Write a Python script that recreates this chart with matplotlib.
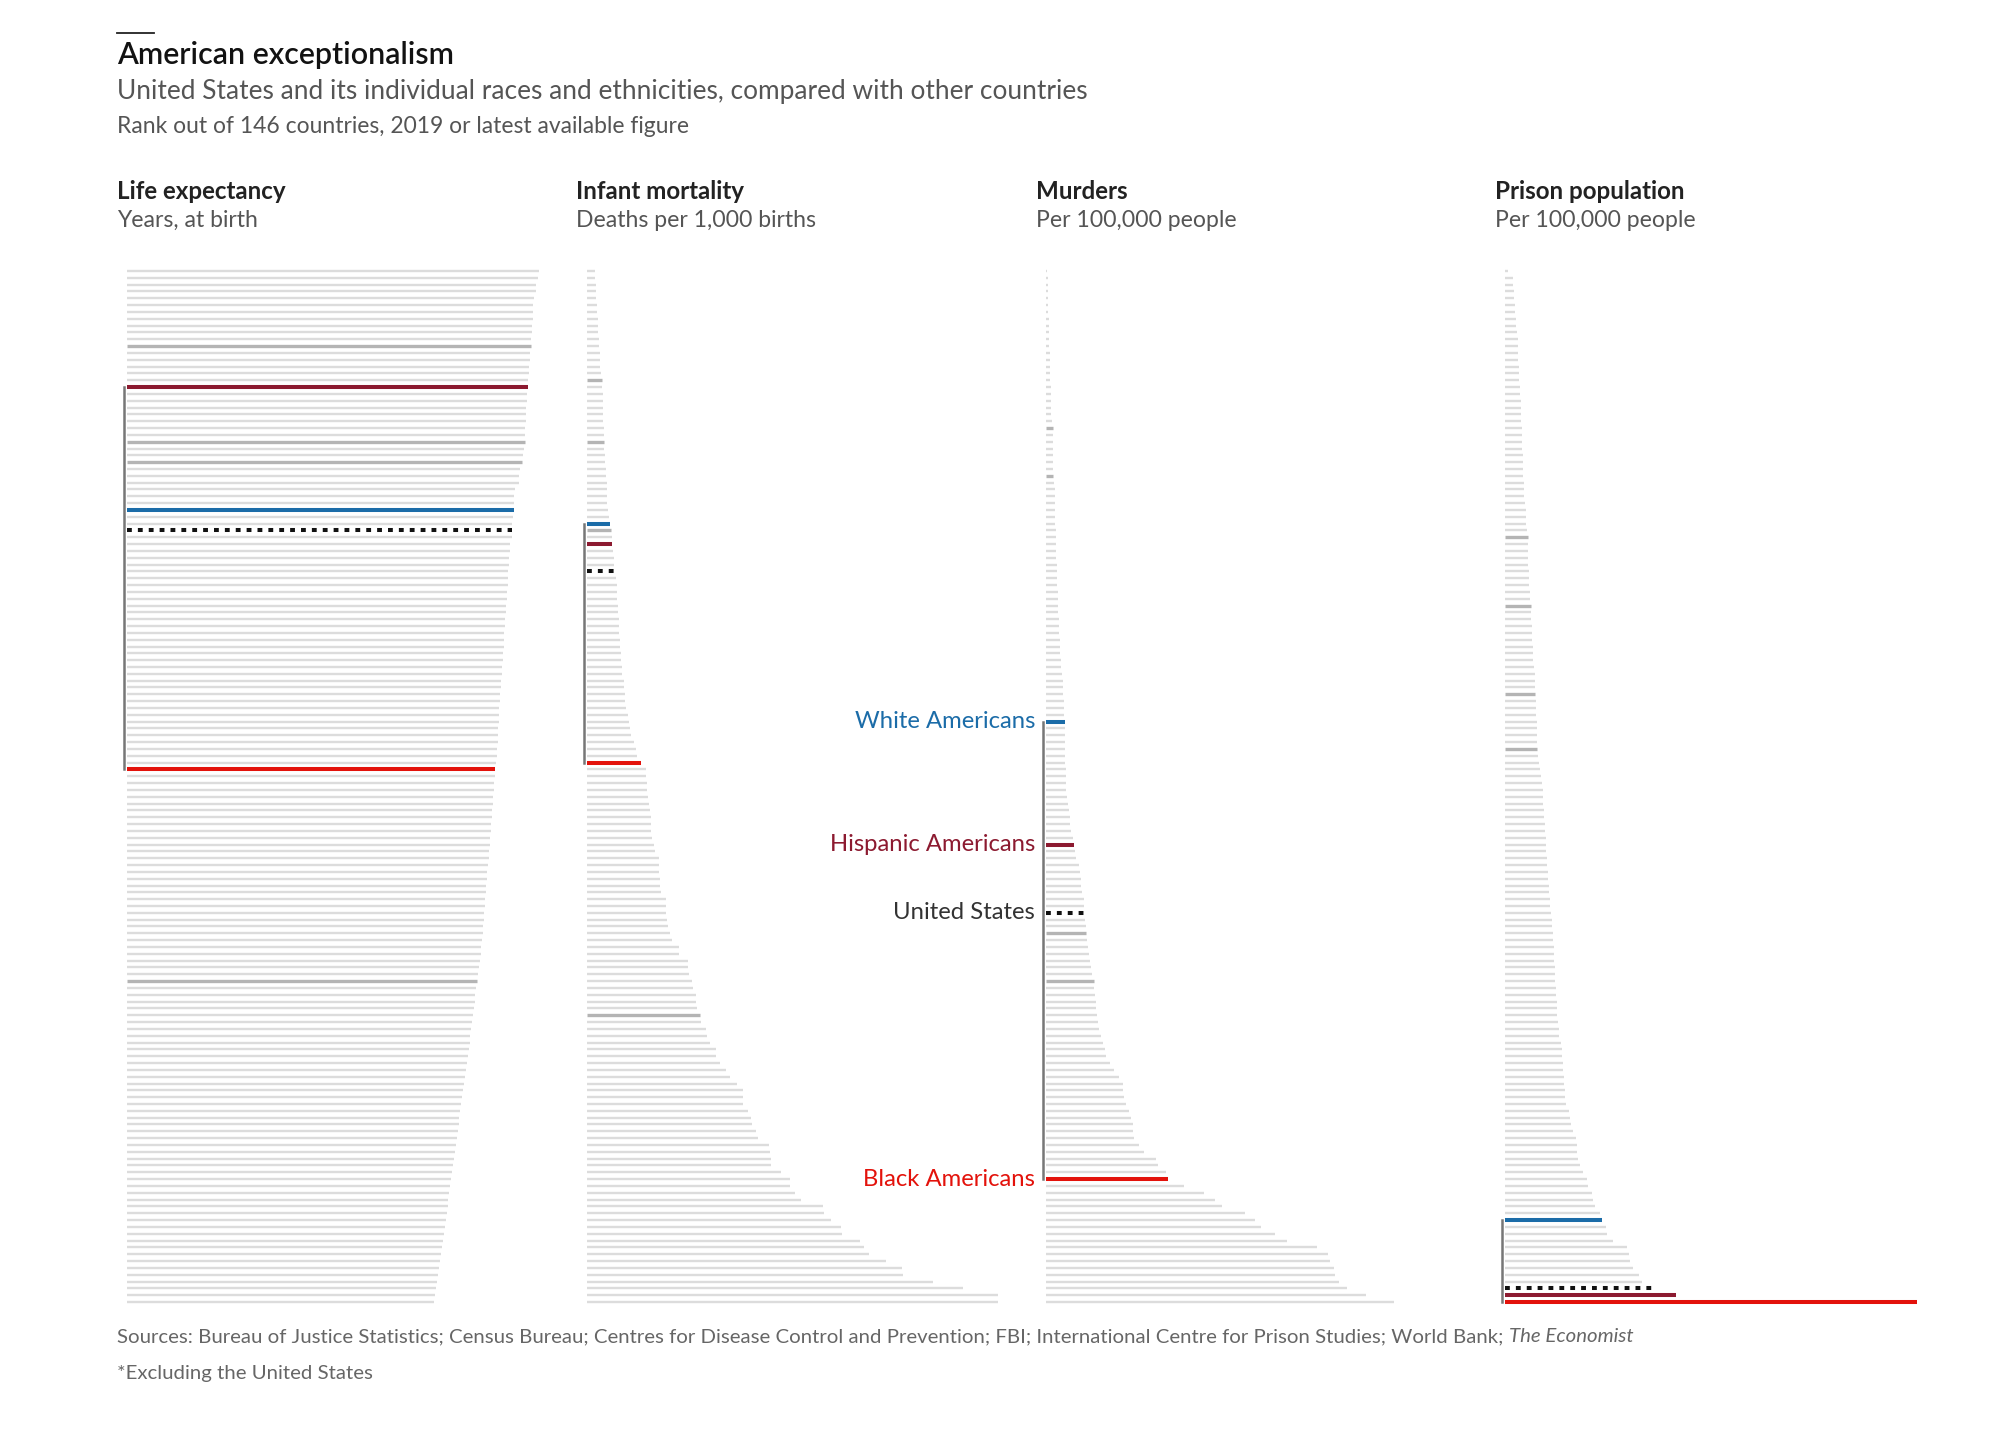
import matplotlib
matplotlib.use('Agg')
import matplotlib.pyplot as plt
from matplotlib.lines import Line2D
from matplotlib import transforms

plt.rcParams['font.family'] = ['Lato', 'DejaVu Sans']

# valores por linha (ordem de ranking, melhor no topo)
life = [84.1, 83.9, 83.5, 83.4, 83.1, 82.9, 82.8, 82.8, 82.7, 82.7, 82.4, 82.4, 82.3, 82.2, 82.0, 82.0, 81.8, 81.8,
        81.7, 81.6, 81.5, 81.4, 81.4, 81.3, 81.2, 81.2, 81.0, 80.8, 80.7, 80.1, 80.0, 79.9, 79.2, 79.0, 78.9,
        78.9, 78.8, 78.6, 78.6, 78.5, 78.2,
        78.1, 78.0, 77.9, 77.8, 77.8, 77.7, 77.6, 77.5, 77.4, 77.3, 77.2, 77.1, 77.0, 76.9, 76.9, 76.8,
        76.7, 76.6, 76.5, 76.4, 76.3, 76.2, 76.1, 76.0, 76.0, 75.9, 75.8, 75.7, 75.6, 75.5, 75.4, 75.2,
        75.1,
        75.0, 74.9, 74.8, 74.7, 74.6, 74.5, 74.4, 74.3, 74.2, 74.1, 74.0, 73.9, 73.8, 73.7, 73.5, 73.4,
        73.3, 73.2, 73.1, 73.0, 72.9, 72.8, 72.7, 72.6, 72.4, 72.3, 72.2, 72.0, 71.9, 71.7,
        71.4,
        71.3, 71.1, 71.0, 70.8, 70.6, 70.4, 70.2, 70.0, 69.9, 69.7, 69.5, 69.3, 69.1, 68.9, 68.7, 68.5,
        68.3, 68.2, 68.0, 67.8, 67.7, 67.5, 67.3,
        67.1, 66.9, 66.7, 66.5, 66.3, 66.1, 65.9, 65.8, 65.6, 65.4, 65.2,
        65.0, 64.8, 64.6, 64.4, 64.2, 64.1, 63.9, 63.7, 63.5, 63.3, 63.1, 62.9, 62.6]

infant = [1.7, 1.7, 1.8, 1.9, 1.9, 2.1, 2.1, 2.2, 2.2, 2.3, 2.4, 2.4, 2.6, 2.7, 2.7, 2.8,
          3.0,
          3.0, 3.1, 3.2, 3.2, 3.2, 3.2, 3.3, 3.3,
          3.3,
          3.3, 3.5, 3.6, 3.7, 3.7, 3.9, 3.9, 4.0, 4.0, 4.1, 4.3,
          4.5, 4.8, 4.9, 4.9, 5.1, 5.3, 5.4, 5.6,
          5.7, 5.8, 5.9, 5.9, 6.0, 6.1, 6.2, 6.2, 6.3, 6.4, 6.4, 6.6, 6.7, 6.8, 6.9, 7.2, 7.2, 7.4,
          7.5, 7.7, 8.0, 8.2, 8.4, 8.5, 9.1, 9.5, 9.8,
          10.6,
          11.5, 11.5, 11.6, 11.7, 11.9, 12.1, 12.2, 12.4, 12.5, 12.5, 12.7, 13.1, 13.2, 14.0, 14.0,
          14.0, 14.2, 14.2, 14.3, 15.3, 15.3, 15.4, 15.6, 15.8, 16.1, 16.5, 17.8, 17.9, 19.6, 19.6,
          19.8, 20.3, 20.6, 21.2, 21.2, 21.4,
          22.0,
          22.2, 23.0, 23.3, 23.8, 25.1, 25.1, 25.7, 26.9, 27.7, 29.0, 30.2, 30.2, 30.2, 31.2, 31.7,
          32.0, 32.7, 33.1, 35.3, 35.4, 35.7, 35.7, 37.6, 39.3, 39.4, 40.2, 41.5, 45.7, 45.8, 47.3,
          49.2, 49.4, 52.9, 53.7, 54.6, 57.9, 61.0, 61.1, 66.9, 72.8, 79.5, 79.5]

murders = [0.18, 0.21, 0.23, 0.25, 0.27, 0.30, 0.32, 0.34, 0.36, 0.38, 0.40, 0.43, 0.45, 0.48, 0.51,
           0.53, 0.56, 0.58, 0.61, 0.63, 0.66, 0.69, 0.72,
           0.88,
           0.88, 0.88, 0.92, 0.96, 0.96, 0.96,
           0.96,
           1.05, 1.10, 1.10, 1.14, 1.14, 1.18, 1.18, 1.23, 1.23, 1.27, 1.32, 1.32, 1.36, 1.40, 1.40,
           1.45, 1.49, 1.49, 1.54, 1.58, 1.62, 1.67, 1.71, 1.75, 1.80, 1.84, 1.93, 1.97, 2.06, 2.15,
           2.19, 2.24, 2.28, 2.32, 2.36,
           2.38,
           2.39, 2.40, 2.42, 2.44, 2.46, 2.48, 2.50, 2.52, 2.54, 2.56, 2.63, 2.84, 2.97, 3.05, 3.14,
           3.26, 3.47,
           3.64,
           3.69, 3.90, 4.24, 4.41, 4.49, 4.53, 4.66, 4.83, 4.92,
           5.00,
           5.04, 5.08, 5.12,
           5.30, 5.38, 5.51, 5.59, 5.81, 5.93,
           6.10,
           6.14, 6.23, 6.36, 6.44, 6.53, 6.65, 6.78, 7.08, 7.29, 7.50, 7.63, 8.14, 8.77, 9.41, 9.83,
           9.92, 10.04, 10.25, 10.59, 10.89, 11.10, 11.19, 11.31, 11.95, 12.58, 14.07, 14.36, 15.34,
           15.6,
           17.67, 20.2, 21.7, 22.6, 25.5, 26.8, 27.6, 29.3, 30.9, 34.7, 36.2, 36.4, 36.9, 37.0, 37.6,
           38.6, 41.0, 44.6]

prison = [14, 33, 36, 39, 41, 42, 44, 47, 49, 51, 54, 55, 57, 58, 59, 60, 62, 63, 65, 67, 68, 69,
          70, 72, 73, 74, 75, 76, 77, 78, 79, 81, 82, 84, 86, 89, 90, 92, 94,
          98,
          98, 99, 101, 101, 102, 103, 105, 106, 108,
          112,
          112, 114, 115, 116, 117, 120, 122, 123, 125, 128, 130, 131,
          131,
          132, 134, 136, 137, 138, 139, 140,
          140,
          144, 148, 152, 155, 159, 162, 164, 166, 168, 170, 172, 173, 175, 176, 179, 181, 183, 185,
          187, 190, 192, 194, 196, 200, 202, 204, 206, 208, 210, 212, 213, 215, 217, 218, 220, 221,
          223, 224, 226, 229, 232, 235, 241, 244, 246, 249, 251, 253, 255, 258, 260, 263, 275, 279,
          287, 292, 305, 309, 312, 317, 324, 338,
          353, 360, 374, 382, 389, 410,
          420,
          436, 442, 465, 526, 536, 540, 552, 580, 590,
          655, 739, 1781]

# posicoes (ranking) das linhas destacadas
life_cinza = [11, 25, 28, 104]
life_grupos = {'white': 35, 'hisp': 17, 'us': 38, 'black': 73}
infant_cinza = [16, 25, 38, 109]
infant_grupos = {'white': 37, 'hisp': 40, 'us': 44, 'black': 72}
murders_cinza = [23, 30, 97, 104]
murders_grupos = {'white': 66, 'hisp': 84, 'us': 94, 'black': 133}
prison_cinza = [39, 49, 62, 70]
prison_grupos = {'white': 139, 'hisp': 150, 'us': 149, 'black': 151}

titulos = ['Life expectancy', 'Infant mortality', 'Murders', 'Prison population']
unidades = ['Years, at birth', 'Deaths per 1,000 births', 'Per 100,000 people', 'Per 100,000 people']

rotulos = {'white': 'White Americans', 'hisp': 'Hispanic Americans',
           'us': 'United States', 'black': 'Black Americans'}
cores = {'white': '#1b6ca8', 'hisp': '#8c1a30', 'us': '#111111', 'black': '#e3120b'}
cor_rotulo = {'white': '#1b6ca8', 'hisp': '#8c1a30', 'us': '#333333', 'black': '#e3120b'}

W, H = 2000, 1432
fig = plt.figure(figsize=(20, 14.32), dpi=100)
fig.patch.set_facecolor('white')


def px(x, y):
    return x / W, 1 - y / H


topo, base = 271, 1302
paineis = [
    (127, 420, 85.7, life, life_cinza, life_grupos),
    (586.5, 440, 85.0, infant, infant_cinza, infant_grupos),
    (1046, 440, 56.4, murders, murders_cinza, murders_grupos),
    (1505, 440, 1900, prison, prison_cinza, prison_grupos),
]

eixos = []
for esq, larg, xmax, valores, cinza, grupos in paineis:
    ax = fig.add_axes([esq / W, 1 - base / H, larg / W, (base - topo) / H])
    ax.set_xlim(0, xmax)
    ax.set_ylim(len(valores) - 1, 0)
    ax.axis('off')

    destacadas = set(cinza) | set(grupos.values())
    linhas = [i for i in range(len(valores)) if i not in destacadas]
    ax.hlines(linhas, 0, [valores[i] for i in linhas], color='#dcdcdc', lw=1.7, clip_on=False)
    ax.hlines(cinza, 0, [valores[i] for i in cinza], color='#b4b4b4', lw=2.4, clip_on=False)

    # colchete ligando os grupos americanos
    r = list(grupos.values())
    desloc = transforms.offset_copy(ax.transData, fig=fig, x=-3, units='dots')
    ax.plot([0, 0], [min(r), max(r)], color='#777777', lw=1.8, transform=desloc,
            clip_on=False, solid_capstyle='projecting')

    for nome, linha in grupos.items():
        if nome == 'us':
            ax.plot([0, valores[linha]], [linha, linha], color=cores[nome], lw=2.9,
                    linestyle=(0, (1.2, 1.5)), dash_capstyle='butt', clip_on=False)
        else:
            ax.plot([0, valores[linha]], [linha, linha], color=cores[nome], lw=2.9,
                    solid_capstyle='butt', clip_on=False)
    eixos.append(ax)

# rotulos no painel de homicidios
ax3 = eixos[2]
desloc = transforms.offset_copy(ax3.transData, fig=fig, x=-11, units='dots')
for nome, linha in murders_grupos.items():
    ax3.text(0, linha, rotulos[nome], color=cor_rotulo[nome], fontsize=17.2,
             ha='right', va='center', transform=desloc)

# cabecalho
fig.add_artist(Line2D([117 / W, 154 / W], [1 - 33 / H] * 2, color='#222222', lw=1.3))
fig.text(*px(117, 64), 'American exceptionalism', fontsize=21.9, fontweight='semibold',
         color='#121212', va='baseline')
fig.text(*px(117, 99.5), 'United States and its individual races and ethnicities, compared with other countries',
         fontsize=18.9, color='#555555', va='baseline')
fig.text(*px(117, 133), 'Rank out of 146 countries, 2019 or latest available figure',
         fontsize=16.5, color='#555555', va='baseline')

for k in range(4):
    x = 117 + 459.4 * k
    fig.text(*px(x, 199), titulos[k], fontsize=17.4, fontweight='bold', color='#222222', va='baseline')
    fig.text(*px(x, 227), unidades[k], fontsize=16.6, color='#555555', va='baseline')

fonte = fig.text(*px(117, 1342), 'Sources: Bureau of Justice Statistics; Census Bureau; Centres for Disease '
                 'Control and Prevention; FBI; International Centre for Prison Studies; World Bank;',
                 fontsize=14.7, color='#666666', va='baseline')
eixos[0].annotate('The Economist', xy=(1, 0), xycoords=fonte, xytext=(4, 0),
                  textcoords='offset points', fontsize=14.7, style='italic', color='#666666',
                  va='bottom', ha='left')
fig.text(*px(117, 1379), '*Excluding the United States', fontsize=14.7, color='#666666', va='baseline')

fig.savefig('out.png', dpi=100, facecolor='white')
